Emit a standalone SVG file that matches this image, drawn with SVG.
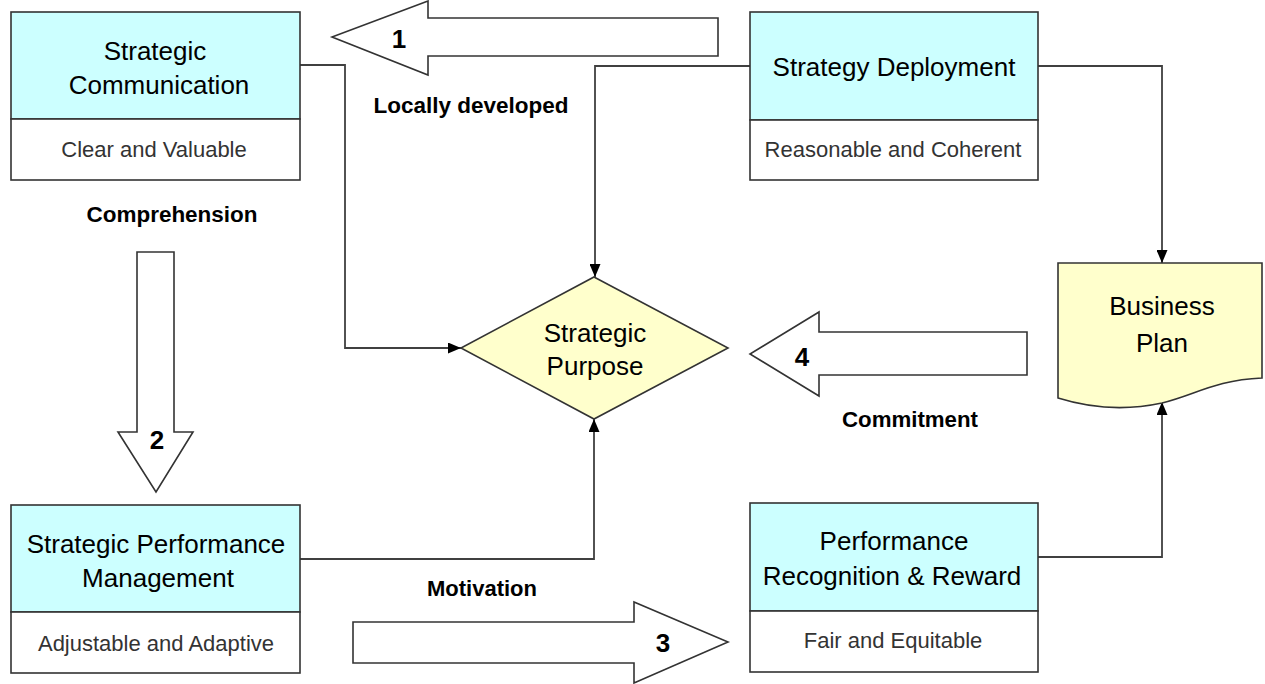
<svg xmlns="http://www.w3.org/2000/svg" width="1265" height="684" viewBox="0 0 1265 684">
<style>
.box{fill:#CCFFFF;stroke:#333;stroke-width:1.6}
.sub{fill:#fff;stroke:#333;stroke-width:1.6}
.yel{fill:#FFFFCC;stroke:#333;stroke-width:1.6}
.big{fill:#fff;stroke:#333;stroke-width:1.6}
.t{font-family:"Liberation Sans",Arial,sans-serif;font-size:26px;fill:#000;text-anchor:middle}
.s{font-family:"Liberation Sans",Arial,sans-serif;font-size:22px;fill:#333;text-anchor:middle}
.b{font-family:"Liberation Sans",Arial,sans-serif;font-size:22px;font-weight:bold;fill:#000;text-anchor:middle}
.n{font-family:"Liberation Sans",Arial,sans-serif;font-size:26px;font-weight:bold;fill:#000;text-anchor:middle}
.c{fill:none;stroke:#404040;stroke-width:1.8}
</style>
<defs>
<marker id="ah" markerUnits="userSpaceOnUse" markerWidth="13" markerHeight="11" refX="13" refY="5.5" orient="auto">
<path d="M0,0 L13,5.5 L0,11 Z" fill="#000"/>
</marker>
</defs>
<rect width="1265" height="684" fill="#fff"/>

<g id="connectors">
<path class="c" d="M300,65 H345 V348 H461" marker-end="url(#ah)"/>
<path class="c" d="M750,66 H595 V277" marker-end="url(#ah)"/>
<path class="c" d="M1038,66 H1162 V263" marker-end="url(#ah)"/>
<path class="c" d="M300,559 H594 V419" marker-end="url(#ah)"/>
<path class="c" d="M1038,557 H1162 V402" marker-end="url(#ah)"/>
</g>

<g id="arrow1">
<path class="big" d="M718,18 H428 V1 L332,37 L428,75 V56 H718 Z"/>
<text class="n" x="399" y="48">1</text>
</g>
<g id="arrow2">
<path class="big" d="M137,252 H174 V432 H193 L156,492 L118,432 H137 Z"/>
<text class="n" x="157" y="449">2</text>
</g>
<g id="arrow3">
<path class="big" d="M353,622 H634 V602 L728,642 L634,683 V663 H353 Z"/>
<text class="n" x="663" y="652">3</text>
</g>
<g id="arrow4">
<path class="big" d="M1027,332 H819 V312 L750,354 L819,396 V375 H1027 Z"/>
<text class="n" x="802" y="366">4</text>
</g>

<g id="strategic-communication">
<rect class="box" x="11" y="12" width="289" height="107"/>
<rect class="sub" x="11" y="119" width="289" height="61"/>
<text class="t" x="155" y="60">Strategic</text>
<text class="t" x="159" y="94">Communication</text>
<text class="s" x="154" y="157">Clear and Valuable</text>
</g>

<g id="strategy-deployment">
<rect class="box" x="750" y="12" width="288" height="108"/>
<rect class="sub" x="750" y="120" width="288" height="60"/>
<text class="t" x="894" y="76">Strategy Deployment</text>
<text class="s" x="893" y="157">Reasonable and Coherent</text>
</g>

<g id="strategic-performance-management">
<rect class="box" x="11" y="505" width="289" height="107"/>
<rect class="sub" x="11" y="612" width="289" height="61"/>
<text class="t" x="156" y="553">Strategic Performance</text>
<text class="t" x="158" y="587">Management</text>
<text class="s" x="156" y="651">Adjustable and Adaptive</text>
</g>

<g id="performance-recognition">
<rect class="box" x="750" y="503" width="288" height="108"/>
<rect class="sub" x="750" y="611" width="288" height="61"/>
<text class="t" x="894" y="550">Performance</text>
<text class="t" x="892" y="585">Recognition &amp; Reward</text>
<text class="s" x="893" y="648">Fair and Equitable</text>
</g>

<g id="strategic-purpose">
<path class="yel" d="M594,277 L728,348 L594,419 L461,348 Z"/>
<text class="t" x="595" y="342">Strategic</text>
<text class="t" x="595" y="375">Purpose</text>
</g>

<g id="business-plan">
<path class="yel" d="M1058,263 H1262 V378 C1215,380 1195,395 1162,403 C1125,411 1090,408 1058,398 Z"/>
<text class="t" x="1162" y="315">Business</text>
<text class="t" x="1162" y="352">Plan</text>
</g>

<g id="labels">
<text class="b" x="471" y="113" textLength="195" lengthAdjust="spacingAndGlyphs">Locally developed</text>
<text class="b" x="172" y="222" textLength="171" lengthAdjust="spacingAndGlyphs">Comprehension</text>
<text class="b" x="910" y="427" textLength="136" lengthAdjust="spacingAndGlyphs">Commitment</text>
<text class="b" x="482" y="596" textLength="110" lengthAdjust="spacingAndGlyphs">Motivation</text>
</g>
</svg>
